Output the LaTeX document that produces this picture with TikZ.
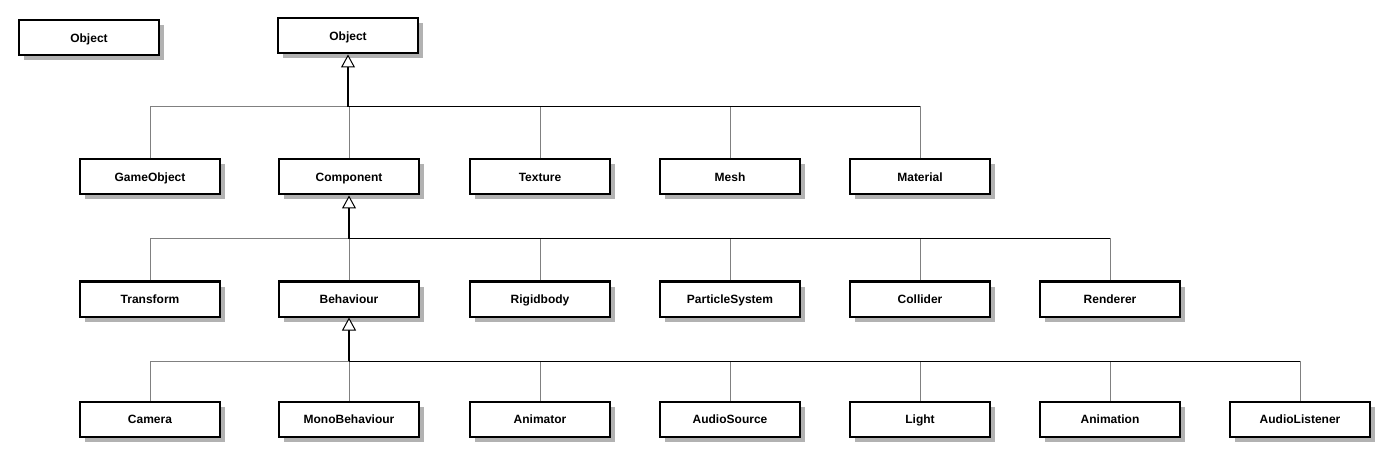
\documentclass[tikz,border=0pt]{standalone}
\usepackage{fontspec}
\setmainfont{Liberation Sans}
\usetikzlibrary{arrows.meta,shadows}

\begin{document}
\begin{tikzpicture}[x=1pt, y=-1pt,
    cls/.style = {draw, line width=2pt, fill=white, minimum width=140pt, minimum height=35pt,
        text height=9pt, text depth=0pt,
        font=\fontsize{12}{14}\selectfont\bfseries,
        general shadow={fill=black!30, shadow xshift=5pt, shadow yshift=-5pt}},
    link/.style = {draw=black!50, line width=1pt},
    bar/.style = {draw=black, line width=1pt},
    inherit/.style = {line width=2pt, -{Triangle[width=14pt, length=13pt, line width=1pt, fill=white]}}]
    \useasboundingbox (0,0) rectangle (1390,457);
    % top row
    \node[cls] (objectA) at (89,38) {Object};
    \node[cls] (objectB) at (348,36) {Object};
    % first level
    \node[cls] (gameobject) at (150,177) {GameObject};
    \node[cls] (component) at (349,177) {Component};
    \node[cls] (texture) at (540,177) {Texture};
    \node[cls] (mesh) at (730,177) {Mesh};
    \node[cls] (material) at (920,177) {Material};
    % second level
    \node[cls] (transform) at (150,299) {Transform};
    \node[cls] (behaviour) at (349,299) {Behaviour};
    \node[cls] (rigidbody) at (540,299) {Rigidbody};
    \node[cls] (particles) at (730,299) {ParticleSystem};
    \node[cls] (collider) at (920,299) {Collider};
    \node[cls] (renderer) at (1110,299) {Renderer};
    % third level
    \node[cls] (camera) at (150,419) {Camera};
    \node[cls] (mono) at (349,419) {MonoBehaviour};
    \node[cls] (animator) at (540,419) {Animator};
    \node[cls] (audiosrc) at (730,419) {AudioSource};
    \node[cls] (light) at (920,419) {Light};
    \node[cls] (animation) at (1110,419) {Animation};
    \node[cls] (listener) at (1300,419) {AudioListener};
    % junctions
    \coordinate (hubA) at (348,107);
    \coordinate (hubB) at (349,239);
    \coordinate (hubC) at (349,361);
    % Object
    \draw[link] (gameobject.north) |- (hubA);
    \draw[link] (component.north) |- (hubA);
    \draw[link] (texture.north) |- (hubA);
    \draw[link] (mesh.north) |- (hubA);
    \draw[link] (material.north) |- (hubA);
    \draw[bar] (hubA) -- (hubA -| material.north);
    \draw[inherit] (hubA) -- (objectB.south);
    % Component
    \draw[link] (transform.north) |- (hubB);
    \draw[link] (behaviour.north) |- (hubB);
    \draw[link] (rigidbody.north) |- (hubB);
    \draw[link] (particles.north) |- (hubB);
    \draw[link] (collider.north) |- (hubB);
    \draw[link] (renderer.north) |- (hubB);
    \draw[bar] (hubB) -- (hubB -| renderer.north);
    \draw[inherit] (hubB) -- (component.south);
    % Behaviour
    \draw[link] (camera.north) |- (hubC);
    \draw[link] (mono.north) |- (hubC);
    \draw[link] (animator.north) |- (hubC);
    \draw[link] (audiosrc.north) |- (hubC);
    \draw[link] (light.north) |- (hubC);
    \draw[link] (animation.north) |- (hubC);
    \draw[link] (listener.north) |- (hubC);
    \draw[bar] (hubC) -- (hubC -| listener.north);
    \draw[inherit] (hubC) -- (behaviour.south);
\end{tikzpicture}
\end{document}
